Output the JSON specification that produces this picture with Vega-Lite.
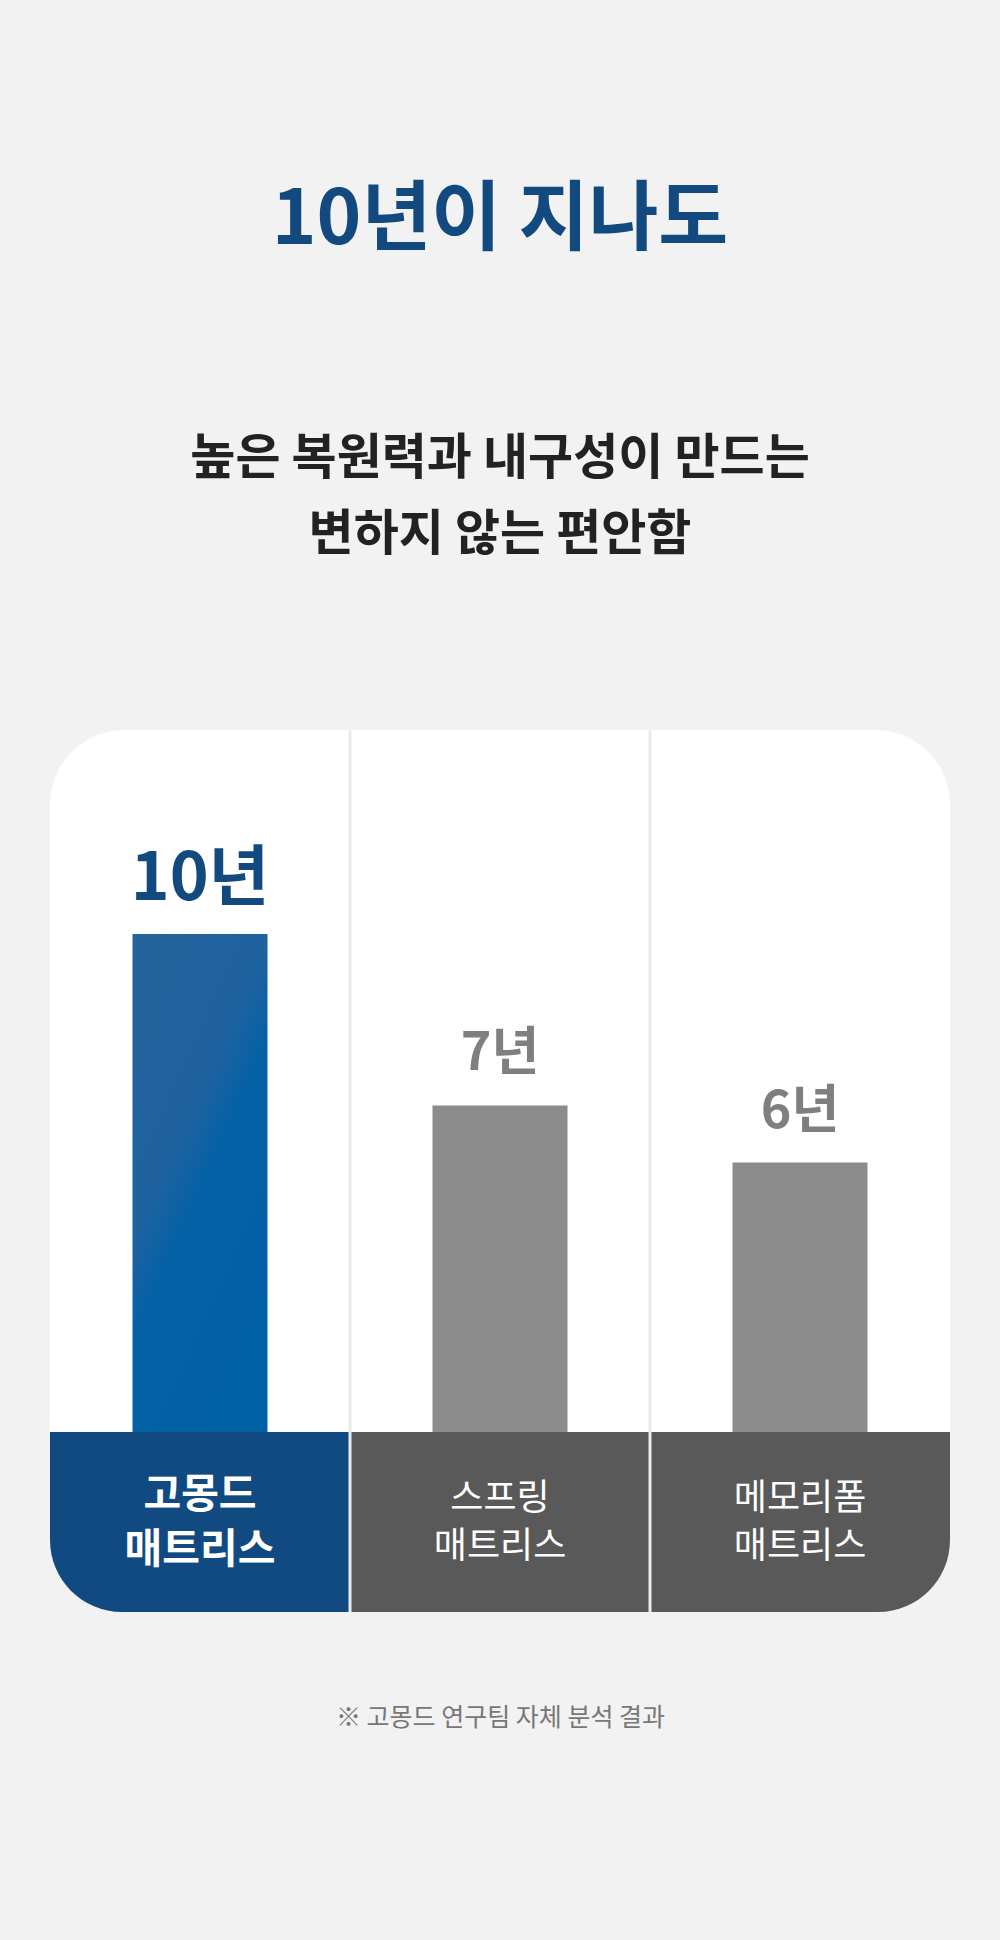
{
  "$schema": "https://vega.github.io/schema/vega-lite/v6.json",
  "autosize": {"type": "none"},
  "width": 900,
  "height": 882,
  "padding": {"left": 50, "right": 50, "top": 730, "bottom": 328},
  "background": "#f2f2f2",
  "config": {
    "view": {"fill": "#ffffff", "stroke": null, "cornerRadius": 75},
    "font": "Noto Sans CJK KR"
  },
  "title": {
    "text": "10년이 지나도",
    "subtitle": ["높은 복원력과 내구성이 만드는", "변하지 않는 편안함"],
    "anchor": "middle",
    "frame": "group",
    "font": "Noto Sans CJK KR",
    "fontSize": 76,
    "fontWeight": "bold",
    "color": "#124a80",
    "subtitleFont": "Noto Sans CJK KR",
    "subtitleFontSize": 49,
    "subtitleFontWeight": "bold",
    "subtitleColor": "#222222",
    "subtitleLineHeight": 76,
    "subtitlePadding": 175,
    "offset": 168
  },
  "data": {
    "values": [
      {"cat": "고몽드 매트리스", "label": "고몽드\n매트리스", "years": 10, "value_label": "10년"},
      {"cat": "스프링 매트리스", "label": "스프링\n매트리스", "years": 7, "value_label": "7년"},
      {"cat": "메모리폼 매트리스", "label": "메모리폼\n매트리스", "years": 6, "value_label": "6년"}
    ]
  },
  "encoding": {
    "x": {
      "field": "cat",
      "type": "nominal",
      "sort": null,
      "scale": {"paddingInner": 0, "paddingOuter": 0},
      "axis": {
        "orient": "bottom",
        "labels": false,
        "ticks": false,
        "domain": false,
        "grid": false,
        "title": "※ 고몽드 연구팀 자체 분석 결과",
        "titleFont": "Noto Sans CJK KR",
        "titleFontSize": 25,
        "titleFontWeight": "normal",
        "titleColor": "#777777",
        "titlePadding": 93
      }
    }
  },
  "layer": [
    {
      "transform": [{"filter": "datum.years == 10"}],
      "mark": {
        "type": "bar",
        "width": {"band": 0.45},
        "color": {
          "gradient": "linear",
          "x1": 0, "y1": 0, "x2": 0.6, "y2": 1,
          "stops": [
            {"offset": 0, "color": "#24639c"},
            {"offset": 0.45, "color": "#1f62a0"},
            {"offset": 0.6, "color": "#0561a6"},
            {"offset": 1, "color": "#0060a6"}
          ]
        }
      },
      "encoding": {
        "y": {"field": "years", "type": "quantitative", "scale": {"domain": [-1.86, 13.566], "zero": false, "nice": false}, "axis": null},
        "y2": {"datum": 1.29}
      }
    },
    {
      "transform": [{"filter": "datum.years < 10"}],
      "mark": {"type": "bar", "width": {"band": 0.45}, "color": "#8c8c8c"},
      "encoding": {
        "y": {"field": "years", "type": "quantitative", "scale": {"domain": [-1.86, 13.566], "zero": false, "nice": false}, "axis": null},
        "y2": {"datum": 1.29}
      }
    },
    {
      "transform": [{"filter": "datum.years == 10"}],
      "mark": {"type": "bar", "width": {"band": 1}, "color": "#114a80", "cornerRadiusBottomLeft": 72},
      "encoding": {
        "y": {"datum": 1.29, "type": "quantitative", "scale": {"domain": [-1.86, 13.566], "zero": false, "nice": false}, "axis": null},
        "y2": {"datum": -1.86}
      }
    },
    {
      "transform": [{"filter": "datum.years == 7"}],
      "mark": {"type": "bar", "width": {"band": 1}, "color": "#595959"},
      "encoding": {
        "y": {"datum": 1.29, "type": "quantitative", "scale": {"domain": [-1.86, 13.566], "zero": false, "nice": false}, "axis": null},
        "y2": {"datum": -1.86}
      }
    },
    {
      "transform": [{"filter": "datum.years == 6"}],
      "mark": {"type": "bar", "width": {"band": 1}, "color": "#595959", "cornerRadiusBottomRight": 72},
      "encoding": {
        "y": {"datum": 1.29, "type": "quantitative", "scale": {"domain": [-1.86, 13.566], "zero": false, "nice": false}, "axis": null},
        "y2": {"datum": -1.86}
      }
    },
    {
      "transform": [{"filter": "datum.years < 10"}],
      "mark": {"type": "rule", "color": "#ebebeb", "strokeWidth": 3},
      "encoding": {
        "x": {"field": "cat", "type": "nominal", "sort": null, "bandPosition": 0}
      }
    },
    {
      "transform": [{"filter": "datum.years == 10"}],
      "mark": {"type": "text", "baseline": "alphabetic", "dy": -34, "fontSize": 66, "fontWeight": "bold", "color": "#124a80", "font": "Noto Sans CJK KR"},
      "encoding": {
        "y": {"field": "years", "type": "quantitative", "scale": {"domain": [-1.86, 13.566], "zero": false, "nice": false}, "axis": null},
        "text": {"field": "value_label"}
      }
    },
    {
      "transform": [{"filter": "datum.years < 10"}],
      "mark": {"type": "text", "baseline": "alphabetic", "dy": -35, "fontSize": 52, "fontWeight": "bold", "color": "#7f7f7f", "font": "Noto Sans CJK KR"},
      "encoding": {
        "y": {"field": "years", "type": "quantitative", "scale": {"domain": [-1.86, 13.566], "zero": false, "nice": false}, "axis": null},
        "text": {"field": "value_label"}
      }
    },
    {
      "transform": [{"filter": "datum.years == 10"}],
      "mark": {"type": "text", "baseline": "middle", "lineBreak": "\n", "lineHeight": 55, "fontSize": 41, "fontWeight": "bold", "color": "#ffffff", "font": "Noto Sans CJK KR"},
      "encoding": {
        "y": {"datum": 0.17, "type": "quantitative", "scale": {"domain": [-1.86, 13.566], "zero": false, "nice": false}, "axis": null},
        "text": {"field": "label"}
      }
    },
    {
      "transform": [{"filter": "datum.years < 10"}],
      "mark": {"type": "text", "baseline": "middle", "lineBreak": "\n", "lineHeight": 48, "fontSize": 36, "fontWeight": "normal", "color": "#ffffff", "font": "Noto Sans CJK KR"},
      "encoding": {
        "y": {"datum": 0.12, "type": "quantitative", "scale": {"domain": [-1.86, 13.566], "zero": false, "nice": false}, "axis": null},
        "text": {"field": "label"}
      }
    }
  ]
}
